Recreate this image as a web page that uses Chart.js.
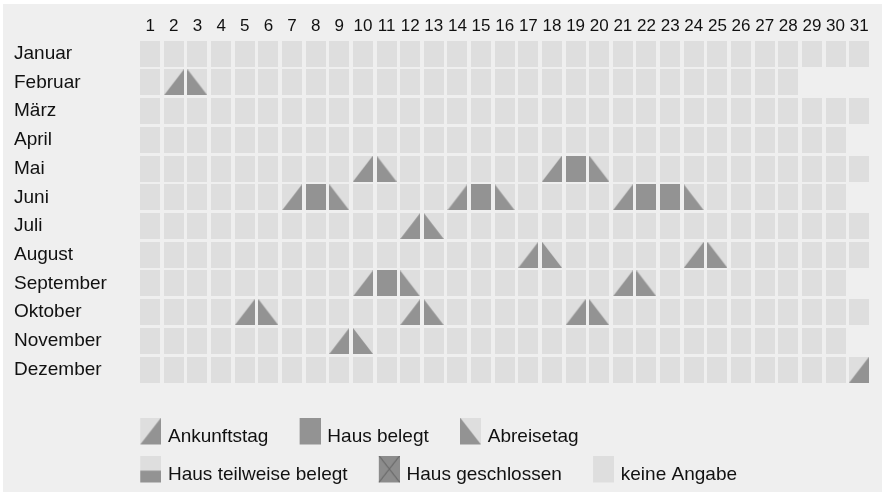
<!DOCTYPE html>
<html>
<head>
<meta charset="utf-8">
<script src="https://cdn.jsdelivr.net/npm/chart.js@4.4.1/dist/chart.umd.min.js"></script>
<style>
html, body { margin: 0; padding: 0; background: #fff; }
#wrap { position: absolute; left: 3px; top: 4px; width: 879px; height: 488px; background: #efefef; }
</style>
</head>
<body>
<div id="wrap"><canvas id="belegung"></canvas></div>
<script>
'use strict';

//DATA
var months = ['Januar', 'Februar', 'März', 'April', 'Mai', 'Juni', 'Juli', 'August', 'September', 'Oktober', 'November', 'Dezember'];
var days = ['1', '2', '3', '4', '5', '6', '7', '8', '9', '10', '11', '12', '13', '14', '15', '16',
            '17', '18', '19', '20', '21', '22', '23', '24', '25', '26', '27', '28', '29', '30', '31'];
var monthLengths = [31, 28, 31, 30, 31, 30, 31, 31, 30, 31, 30, 31];
// [monat, tag]
var arrivalDays = [[2, 2], [5, 10], [5, 18], [6, 7], [6, 14], [6, 21], [7, 12], [8, 17], [8, 24],
                   [9, 10], [9, 21], [10, 5], [10, 12], [10, 19], [11, 9], [12, 31]];
var occupiedDays = [[5, 19], [6, 8], [6, 15], [6, 22], [6, 23], [9, 11]];
var departureDays = [[2, 3], [5, 11], [5, 20], [6, 9], [6, 16], [6, 24], [7, 13], [8, 18], [8, 25],
                     [9, 12], [9, 22], [10, 6], [10, 13], [10, 20], [11, 10]];
var partlyDays = [];
var closedDays = [];

//STYLE
var LIGHT = '#dedede';
var DARK = '#939393';
var CROSS = '#5c5c5c';
var GAP_X = 3.2;
var GAP_Y = 2.7;
var FONT = "'Liberation Sans', Arial, sans-serif";

//FUNCTIONS
function toPoints(list) {
   return list.map(function (p) { return { x: days[p[1] - 1], y: months[p[0] - 1] }; });
}

var allDays = [];
monthLengths.forEach(function (n, m) {
   for (var d = 1; d <= n; d++) allDays.push([m + 1, d]);
});

function paint(g, kind, x0, y0, w, h) {
   g.fillStyle = kind === 'closed' ? '#8c8c8c' : LIGHT;
   g.fillRect(x0, y0, w, h);
   g.fillStyle = DARK;
   g.beginPath();
   if (kind === 'arrive') {
      g.moveTo(x0, y0 + h); g.lineTo(x0 + w, y0 + h); g.lineTo(x0 + w, y0);
   } else if (kind === 'leave') {
      g.moveTo(x0, y0); g.lineTo(x0, y0 + h); g.lineTo(x0 + w, y0 + h);
   } else if (kind === 'busy') {
      g.rect(x0, y0, w, h);
   } else if (kind === 'part') {
      g.rect(x0, y0 + h * 0.56, w, h * 0.44);
   }
   g.closePath();
   g.fill();
   if (kind === 'closed') {
      g.strokeStyle = CROSS;
      g.lineWidth = 1;
      g.beginPath();
      g.moveTo(x0, y0); g.lineTo(x0 + w, y0 + h);
      g.moveTo(x0 + w, y0); g.lineTo(x0, y0 + h);
      g.stroke();
   }
}

var cache = {};
function cellFor(kind, chart) {
   var sx = chart.scales.x, sy = chart.scales.y;
   var w = Math.round(Math.abs(sx.getPixelForValue(1) - sx.getPixelForValue(0)) - GAP_X);
   var h = Math.round(Math.abs(sy.getPixelForValue(1) - sy.getPixelForValue(0)) - GAP_Y);
   if (!(w > 0 && h > 0)) return 'rect';
   var key = kind + '_' + w + '_' + h;
   if (!cache[key]) {
      var c = document.createElement('canvas');
      c.width = w; c.height = h;
      paint(c.getContext('2d'), kind, 0, 0, w, h);
      cache[key] = c;
   }
   return cache[key];
}

// legend icon sits at the right/top of a transparent box so it lines up with the text
function legendIcon(kind) {
   var c = document.createElement('canvas');
   c.width = 36; c.height = 39;
   paint(c.getContext('2d'), kind, 15, 0, 21, 27);
   return c;
}

function cellDataset(label, kind, list) {
   return {
      label: label,
      kind: kind,
      data: toPoints(list),
      pointStyle: function (ctx) { return cellFor(kind, ctx.chart); },
      pointRadius: 10,
      pointHoverRadius: 10
   };
}

var legendPlace = {
   id: 'legendPlace',
   afterLayout: function (chart) {
      var lg = chart.legend;
      lg.left = chart.chartArea.left - 29.4;
      lg.right = lg.left + 690;
      lg.top += 2.5;
   }
};

//EXE
new Chart(document.getElementById('belegung'), {
   type: 'scatter',
   data: {
      datasets: [
         cellDataset('Ankunftstag', 'arrive', arrivalDays),
         cellDataset('Haus belegt', 'busy', occupiedDays),
         cellDataset('Abreisetag', 'leave', departureDays),
         cellDataset('Haus teilweise belegt', 'part', partlyDays),
         cellDataset('Haus geschlossen', 'closed', closedDays),
         cellDataset('keine Angabe', 'none', allDays)
      ]
   },
   options: {
      responsive: true,
      maintainAspectRatio: false,
      animation: false,
      events: [],
      layout: { padding: { left: 11, right: 7.7, top: 0, bottom: 0 } },
      scales: {
         x: {
            type: 'category',
            labels: days,
            position: 'top',
            offset: true,
            grid: { display: false, drawTicks: false },
            border: { display: false },
            ticks: { autoSkip: false, maxRotation: 0, padding: 3, color: '#111', font: { family: FONT, size: 17 } },
            afterFit: function (s) { s.height = 35.35; }
         },
         x2: {
            type: 'linear',
            position: 'bottom',
            grid: { display: false, drawTicks: false },
            border: { display: false },
            ticks: { display: false },
            afterFit: function (s) { s.height = 22; }
         },
         y: {
            type: 'category',
            labels: months,
            offset: true,
            grid: { display: false, drawTicks: false },
            border: { display: false },
            ticks: { autoSkip: false, crossAlign: 'far', color: '#111', font: { family: FONT, size: 19 } },
            afterFit: function (s) { s.width = 124.4; }
         }
      },
      plugins: {
         tooltip: { enabled: false },
         legend: {
            position: 'bottom',
            align: 'start',
            labels: {
               usePointStyle: true,
               pointStyleWidth: 30.5,
               padding: 19,
               color: '#111',
               font: { family: FONT, size: 19 },
               generateLabels: function (chart) {
                  return chart.data.datasets.map(function (ds, i) {
                     return { text: ds.label, pointStyle: legendIcon(ds.kind), datasetIndex: i, hidden: false, lineWidth: 0, fontColor: '#111' };
                  });
               }
            }
         }
      }
   },
   plugins: [legendPlace]
});
</script>
</body>
</html>
